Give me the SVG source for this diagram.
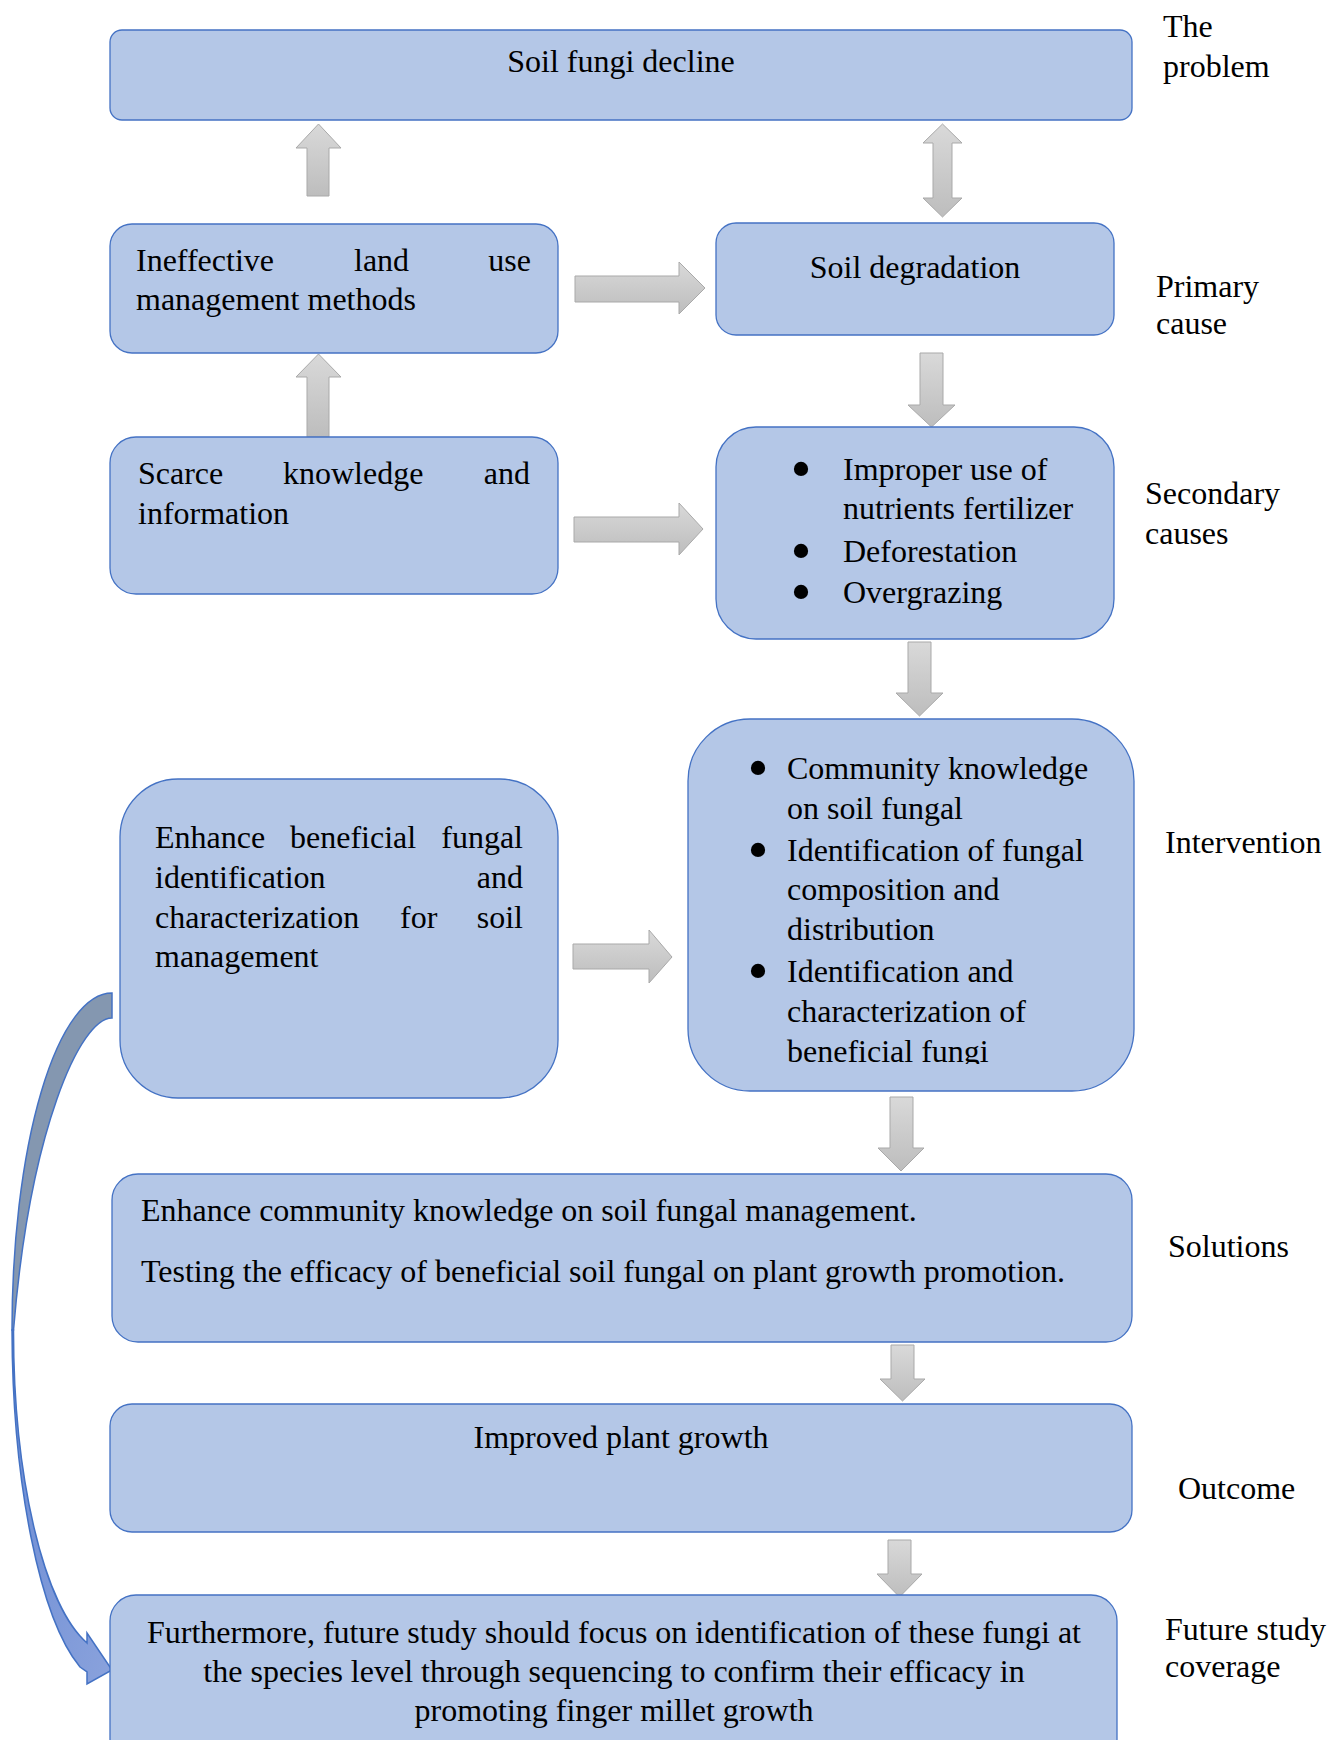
<svg xmlns="http://www.w3.org/2000/svg" width="1338" height="1740" viewBox="0 0 1338 1740">
<style>
.box{fill:#b4c7e7;stroke:#4472c4;stroke-width:1.3}
.t{font-family:"Liberation Serif","Times New Roman",serif;font-size:32px;fill:#000}
.b{font-family:"Liberation Serif","Times New Roman",serif;font-size:60px;fill:#000;text-anchor:middle}
.m{text-anchor:middle}
.ga{fill:url(#gg);stroke:#a9a9a9;stroke-width:1}
</style>
<defs>
<linearGradient id="gg" x1="0" y1="0" x2="0" y2="1">
<stop offset="0" stop-color="#d9d9d9"/>
<stop offset="1" stop-color="#bdbdbd"/>
</linearGradient>
<linearGradient id="bg" x1="0" y1="0" x2="1" y2="1">
<stop offset="0" stop-color="#6b8bd3"/>
<stop offset="1" stop-color="#8aa2dc"/>
</linearGradient>
<clipPath id="c7"><rect x="680" y="700" width="460" height="364"/></clipPath>
</defs>
<rect width="1338" height="1740" fill="#fff"/>

<g id="connectors">
<path class="ga" d="M318.5,124 L341,148 L329,148 L329,196 L307,196 L307,148 L296,148 Z"/>
<path class="ga" d="M942.5,124 L962,143 L952,143 L952,198 L962,198 L942.5,217 L923,198 L933,198 L933,143 L923,143 Z"/>
<path class="ga" d="M575,276 L679,276 L679,262 L705,288 L679,314 L679,302 L575,302 Z"/>
<path class="ga" d="M318.5,354 L341,377 L329,377 L329,437 L307,437 L307,377 L296,377 Z"/>
<path class="ga" d="M920,353 L943,353 L943,405 L955,405 L931.5,427 L908,405 L920,405 Z"/>
<path class="ga" d="M574,517 L679,517 L679,503 L703,529 L679,555 L679,542 L574,542 Z"/>
<path class="ga" d="M908,642 L931,642 L931,693 L943,693 L919.5,716 L896,693 L908,693 Z"/>
<path class="ga" d="M573,944 L649,944 L649,930 L672,957 L649,983 L649,969 L573,969 Z"/>
<path class="ga" d="M890,1097 L913,1097 L913,1148 L924,1148 L901,1171 L878,1148 L890,1148 Z"/>
<path class="ga" d="M891,1345 L914,1345 L914,1379 L925,1379 L902.5,1401 L880,1379 L891,1379 Z"/>
<path class="ga" d="M888,1540 L911,1540 L911,1574 L922,1574 L899.5,1597 L877,1574 L888,1574 Z"/>
<path d="M112,993 A100,337 0 0 0 12,1330 L13.5,1330 C30,1130 80,1018 112,1018 Z" fill="#8497b0" stroke="#4472c4" stroke-width="1.5"/>
<path d="M12,1330 A100,360 0 0 0 80,1667 L87,1672 L87,1684 L112,1670 L87,1633 L87,1643 A99,323.5 0 0 1 13.5,1330 Z" fill="url(#bg)" stroke="#4472c4" stroke-width="1.5"/>
</g>

<g id="n1">
<rect class="box" x="110" y="30" width="1022" height="90" rx="12"/>
<text class="t m" x="621" y="72">Soil fungi decline</text>
</g>
<g id="n2">
<rect class="box" x="110" y="224" width="448" height="129" rx="22"/>
<text class="t"><tspan x="136" y="271">Ineffective</tspan><tspan x="354" y="271">land</tspan><tspan x="531" y="271" text-anchor="end">use</tspan><tspan x="136" y="310">management methods</tspan></text>
</g>
<g id="n3">
<rect class="box" x="716" y="223" width="398" height="112" rx="20"/>
<text class="t m" x="915" y="278">Soil degradation</text>
</g>
<g id="n4">
<rect class="box" x="110" y="437" width="448" height="157" rx="26"/>
<text class="t"><tspan x="138" y="484">Scarce</tspan><tspan x="283" y="484">knowledge</tspan><tspan x="530" y="484" text-anchor="end">and</tspan><tspan x="138" y="524">information</tspan></text>
</g>
<g id="n5">
<rect class="box" x="716" y="427" width="398" height="212" rx="40"/>
<text class="b" x="801" y="489">•</text>
<text class="b" x="801" y="571">•</text>
<text class="b" x="801" y="612">•</text>
<text class="t"><tspan x="843" y="480">Improper use of</tspan><tspan x="843" y="519">nutrients fertilizer</tspan><tspan x="843" y="562">Deforestation</tspan><tspan x="843" y="603">Overgrazing</tspan></text>
</g>
<g id="n6">
<rect class="box" x="120" y="779" width="438" height="319" rx="58"/>
<text class="t"><tspan x="155" y="848">Enhance</tspan><tspan x="290" y="848">beneficial</tspan><tspan x="523" y="848" text-anchor="end">fungal</tspan><tspan x="155" y="888">identification</tspan><tspan x="523" y="888" text-anchor="end">and</tspan><tspan x="155" y="928">characterization</tspan><tspan x="400" y="928">for</tspan><tspan x="523" y="928" text-anchor="end">soil</tspan><tspan x="155" y="967">management</tspan></text>
</g>
<g id="n7">
<rect class="box" x="688" y="719" width="446" height="372" rx="62"/>
<g clip-path="url(#c7)">
<text class="b" x="758" y="788">•</text>
<text class="b" x="758" y="870">•</text>
<text class="b" x="758" y="991">•</text>
<text class="t"><tspan x="787" y="779">Community knowledge</tspan><tspan x="787" y="819">on soil fungal</tspan><tspan x="787" y="861">Identification of fungal</tspan><tspan x="787" y="900">composition and</tspan><tspan x="787" y="940">distribution</tspan><tspan x="787" y="982">Identification and</tspan><tspan x="787" y="1022">characterization of</tspan><tspan x="787" y="1062">beneficial fungi</tspan></text>
</g>
</g>
<g id="n8">
<rect class="box" x="112" y="1174" width="1020" height="168" rx="26"/>
<text class="t"><tspan x="141" y="1221">Enhance community knowledge on soil fungal management.</tspan><tspan x="141" y="1282">Testing the efficacy of beneficial soil fungal on plant growth promotion.</tspan></text>
</g>
<g id="n9">
<rect class="box" x="110" y="1404" width="1022" height="128" rx="22"/>
<text class="t m" x="621" y="1448">Improved plant growth</text>
</g>
<g id="n10">
<rect class="box" x="110" y="1595" width="1007" height="170" rx="26"/>
<text class="t m"><tspan x="614" y="1643">Furthermore, future study should focus on identification of these fungi at</tspan><tspan x="614" y="1682">the species level through sequencing to confirm their efficacy in</tspan><tspan x="614" y="1721">promoting finger millet growth</tspan></text>
</g>

<g id="labels">
<text class="t"><tspan x="1163" y="37">The</tspan><tspan x="1163" y="77">problem</tspan></text>
<text class="t"><tspan x="1156" y="297">Primary</tspan><tspan x="1156" y="334">cause</tspan></text>
<text class="t"><tspan x="1145" y="504">Secondary</tspan><tspan x="1145" y="544">causes</tspan></text>
<text class="t" x="1165" y="853">Intervention</text>
<text class="t" x="1168" y="1257">Solutions</text>
<text class="t" x="1178" y="1499">Outcome</text>
<text class="t"><tspan x="1165" y="1640">Future study</tspan><tspan x="1165" y="1677">coverage</tspan></text>
</g>
</svg>
